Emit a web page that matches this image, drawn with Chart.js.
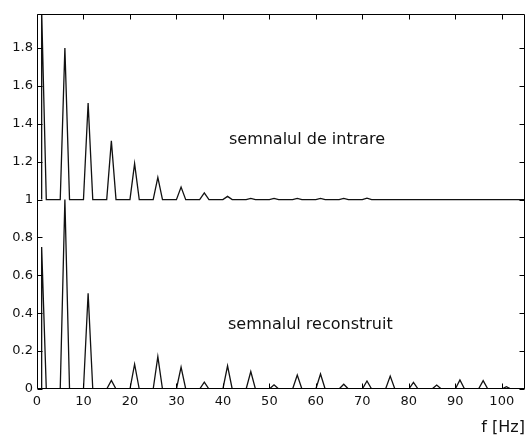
<!DOCTYPE html>
<html>
<head>
<meta charset="utf-8">
<script src="https://cdn.jsdelivr.net/npm/chart.js@4.4.0/dist/chart.umd.min.js"></script>
<style>
html, body { margin: 0; padding: 0; background: #fff; }
#wrap { width: 527px; height: 435px; }
</style>
</head>
<body>
<div id="wrap"><canvas id="spectrum"></canvas></div>
<script>
// harmonic frequencies (Hz) and spectrum peak heights
const peakFreqs = [1, 6, 11, 16, 21, 26, 31, 36, 41, 46, 51, 56, 61, 66, 71, 76, 81, 86, 91, 96, 101];
const inputAmps = [1.0, 0.80, 0.51, 0.31, 0.19, 0.117, 0.066, 0.036, 0.017, 0.006, 0.006, 0.006, 0.006, 0.006, 0.008, 0, 0, 0, 0, 0, 0];
const reconAmps = [0.75, 1.0, 0.506, 0.045, 0.131, 0.171, 0.115, 0.036, 0.122, 0.092, 0.022, 0.074, 0.079, 0.025, 0.042, 0.068, 0.035, 0.021, 0.048, 0.044, 0.012];
const inputOffset = 1;   // input spectrum is drawn shifted up by 1
const reconOffset = 0;

const xTicks = [0, 10, 20, 30, 40, 50, 60, 70, 80, 90, 100];
const yTicks = [0, 0.2, 0.4, 0.6, 0.8, 1, 1.2, 1.4, 1.6, 1.8];

const labels = [
    { text: 'semnalul de intrare', x: 41.3, y: 1.294 },
    { text: 'semnalul reconstruit', x: 41.1, y: 0.315 }
];

const FONT = '"DejaVu Sans", sans-serif';

// each harmonic is a narrow triangle one bin wide on each side
function buildSpectrum(amps, base) {
    const pts = [];
    peakFreqs.forEach((f, i) => {
        if (i === 0) pts.push({x: f, y: base});
        else pts.push({x: f - 1, y: base});
        pts.push({x: f, y: base + amps[i]});
        pts.push({x: f + 1, y: base});
    });
    pts.push({x: 105, y: base});
    return pts;
}

// Matlab style box with inward ticks and the two text labels
const frameTicks = {
    id: 'frameTicks',
    afterDraw(chart) {
        const {ctx, chartArea: a, scales: {x, y}} = chart;
        const L = Math.round(a.left) + 0.5, R = Math.round(a.right) - 0.5;
        const T = Math.round(a.top) + 0.5, B = Math.round(a.bottom) - 0.5;
        ctx.save();
        ctx.strokeStyle = '#000';
        ctx.lineWidth = 1;
        ctx.beginPath();
        ctx.rect(L, T, R - L, B - T);
        xTicks.forEach(v => {
            const px = Math.round(x.getPixelForValue(v)) + 0.5;
            ctx.moveTo(px, B); ctx.lineTo(px, B - 5);
            ctx.moveTo(px, T); ctx.lineTo(px, T + 5);
        });
        yTicks.forEach(v => {
            const py = Math.round(y.getPixelForValue(v)) + 0.5;
            ctx.moveTo(L, py); ctx.lineTo(L + 5, py);
            ctx.moveTo(R, py); ctx.lineTo(R - 5, py);
        });
        ctx.stroke();

        ctx.fillStyle = '#111';
        ctx.font = '16px ' + FONT;
        ctx.textAlign = 'left';
        ctx.textBaseline = 'alphabetic';
        labels.forEach(l => {
            ctx.fillText(l.text, x.getPixelForValue(l.x), y.getPixelForValue(l.y));
        });
        ctx.restore();
    }
};

const ctx = document.getElementById('spectrum').getContext('2d');
window.spectrumChart = new Chart(ctx, {
    type: 'line',
    data: {
        datasets: [{
            label: 'semnalul de intrare',
            data: buildSpectrum(inputAmps, inputOffset),
            borderColor: '#111',
            borderWidth: 1.3,
            pointRadius: 0,
            tension: 0,
            fill: false
        }, {
            label: 'semnalul reconstruit',
            data: buildSpectrum(reconAmps, reconOffset),
            borderColor: '#111',
            borderWidth: 1.3,
            pointRadius: 0,
            tension: 0,
            fill: false
        }]
    },
    options: {
        responsive: true,
        maintainAspectRatio: false,
        animation: false,
        layout: {
            padding: { top: 14, right: 2, left: 0, bottom: 0 }
        },
        plugins: {
            legend: { display: false },
            tooltip: { enabled: false }
        },
        scales: {
            x: {
                type: 'linear',
                min: 0,
                max: 105,
                grid: { display: false, drawTicks: false },
                border: { display: false },
                afterBuildTicks: s => { s.ticks = xTicks.map(v => ({value: v})); },
                afterFit: s => { s.height = 46; },
                ticks: {
                    color: '#111',
                    padding: 5,
                    maxRotation: 0,
                    font: { family: FONT, size: 13 },
                    callback: v => String(v)
                },
                title: {
                    display: true,
                    text: 'f [Hz]',
                    align: 'end',
                    color: '#111',
                    padding: 0,
                    font: { family: FONT, size: 16, lineHeight: 0.875 }
                }
            },
            y: {
                type: 'linear',
                min: 0,
                max: 1.98,
                grid: { display: false, drawTicks: false },
                border: { display: false },
                afterBuildTicks: s => { s.ticks = yTicks.map(v => ({value: v})); },
                afterFit: s => { s.width = 37; },
                ticks: {
                    color: '#111',
                    padding: 4,
                    font: { family: FONT, size: 13 },
                    callback: v => String(+v.toFixed(1))
                }
            }
        }
    },
    plugins: [frameTicks]
});
</script>
</body>
</html>
